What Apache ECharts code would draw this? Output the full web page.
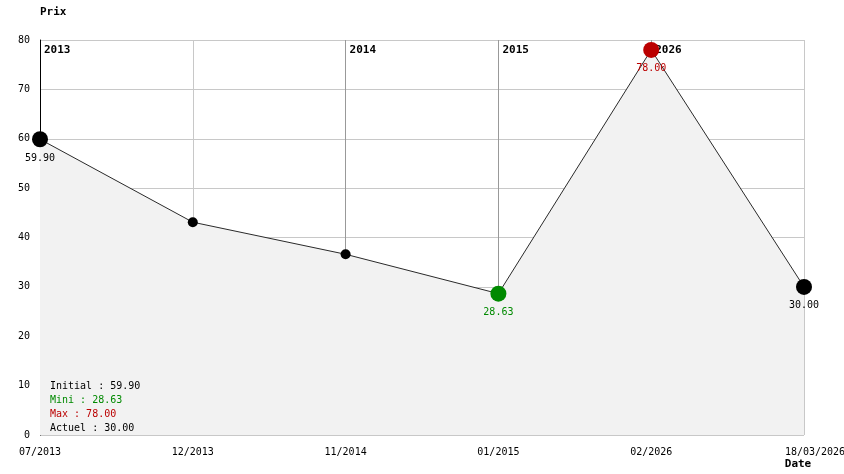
<!DOCTYPE html>
<html>
<head>
<meta charset="utf-8">
<script src="https://cdn.jsdelivr.net/npm/echarts@6/dist/echarts.min.js"></script>
<style>
  html, body { margin: 0; padding: 0; background: #fff; }
  #chart { width: 844px; height: 474px; }
</style>
</head>
<body>
<div id="chart"></div>
<script>
// données du graphique
const categories = ['07/2013', '12/2013', '11/2014', '01/2015', '02/2026', '18/03/2026'];
const prices = [59.90, 43.1, 36.6, 28.63, 78.00, 30.00];
const yearMarks = ['2013', '', '2014', '2015', '2026', ''];
const yTicks = [0, 80, 10]; // min, max, pas

const FONT = 'DejaVu Sans Mono';
const GREEN = '#008a00';
const RED = '#bb0000';

const minVal = Math.min(...prices);
const maxVal = Math.max(...prices);
const minIdx = prices.indexOf(minVal);
const maxIdx = prices.indexOf(maxVal);
const lastIdx = prices.length - 1;

// points : gros pour initial / mini / max / actuel, petits sinon
const seriesData = prices.map((v, i) => {
  let color = '#000';
  if (i === minIdx) color = GREEN;
  if (i === maxIdx) color = RED;
  const big = i === 0 || i === minIdx || i === maxIdx || i === lastIdx;
  return {
    value: v,
    symbolSize: big ? 16 : 10,
    itemStyle: { color: color },
    label: {
      show: big,
      position: 'bottom',
      distance: 6,
      color: color,
      fontFamily: FONT,
      fontSize: 10,
      formatter: p => p.value.toFixed(2)
    }
  };
});

const chart = echarts.init(document.getElementById('chart'));
chart.setOption({
  animation: false,
  backgroundColor: '#fff',
  grid: { left: 40, right: 40, top: 40, bottom: 39, outerBoundsMode: 'none', containLabel: false },
  xAxis: [
    {
      type: 'category',
      data: categories,
      boundaryGap: false,
      name: 'Date',
      nameLocation: 'end',
      nameGap: -6,
      nameTextStyle: {
        fontFamily: FONT, fontSize: 11, fontWeight: 'bold', color: '#000',
        align: 'center', verticalAlign: 'top', padding: [24, 0, 0, 0]
      },
      axisLine: { show: false },
      axisTick: { show: false },
      axisLabel: {
        interval: 0,
        margin: 12,
        fontFamily: FONT,
        fontSize: 10,
        color: '#000',
        formatter: (v, i) => i === lastIdx ? '{last|' + v + '}' : v,
        rich: { last: { padding: [0, 0, 0, 22], fontFamily: FONT, fontSize: 10, color: '#000' } }
      },
      splitLine: {
        show: true,
        interval: 0,
        lineStyle: { color: ['#000', '#c8c8c8', '#999', '#999', '#999', '#c8c8c8'], width: 1 }
      }
    },
    {
      type: 'category',
      position: 'top',
      data: categories,
      boundaryGap: false,
      axisLine: { show: false },
      axisTick: { show: false },
      splitLine: { show: false },
      axisLabel: {
        inside: true,
        interval: 0,
        margin: 5,
        align: 'left',
        padding: [0, 0, 0, 4],
        fontFamily: FONT,
        fontSize: 11,
        fontWeight: 'bold',
        color: '#000',
        formatter: (v, i) => yearMarks[i]
      }
    }
  ],
  yAxis: {
    type: 'value',
    min: yTicks[0],
    max: yTicks[1],
    interval: yTicks[2],
    name: 'Prix',
    nameLocation: 'end',
    nameGap: 28,
    nameTextStyle: {
      fontFamily: FONT, fontSize: 11, fontWeight: 'bold', color: '#000',
      align: 'left', verticalAlign: 'middle'
    },
    axisLine: { show: true, lineStyle: { color: '#000', width: 1 } },
    axisTick: { show: false },
    axisLabel: { margin: 10, fontFamily: FONT, fontSize: 10, color: '#000' },
    splitLine: { show: true, lineStyle: { color: '#c8c8c8', width: 1 } }
  },
  series: [{
    type: 'line',
    data: seriesData,
    symbol: 'circle',
    lineStyle: { color: '#2a2a2a', width: 1 },
    areaStyle: { color: '#f2f2f2', opacity: 1 }
  }],
  graphic: [
    ['Initial : ' + prices[0].toFixed(2), '#000'],
    ['Mini : ' + minVal.toFixed(2), GREEN],
    ['Max : ' + maxVal.toFixed(2), RED],
    ['Actuel : ' + prices[lastIdx].toFixed(2), '#000']
  ].map((t, i) => ({
    type: 'text',
    left: 50,
    top: 381 + i * 14,
    z: 100,
    style: { text: t[0], fill: t[1], font: '10px "' + FONT + '"' }
  }))
});
</script>
</body>
</html>
